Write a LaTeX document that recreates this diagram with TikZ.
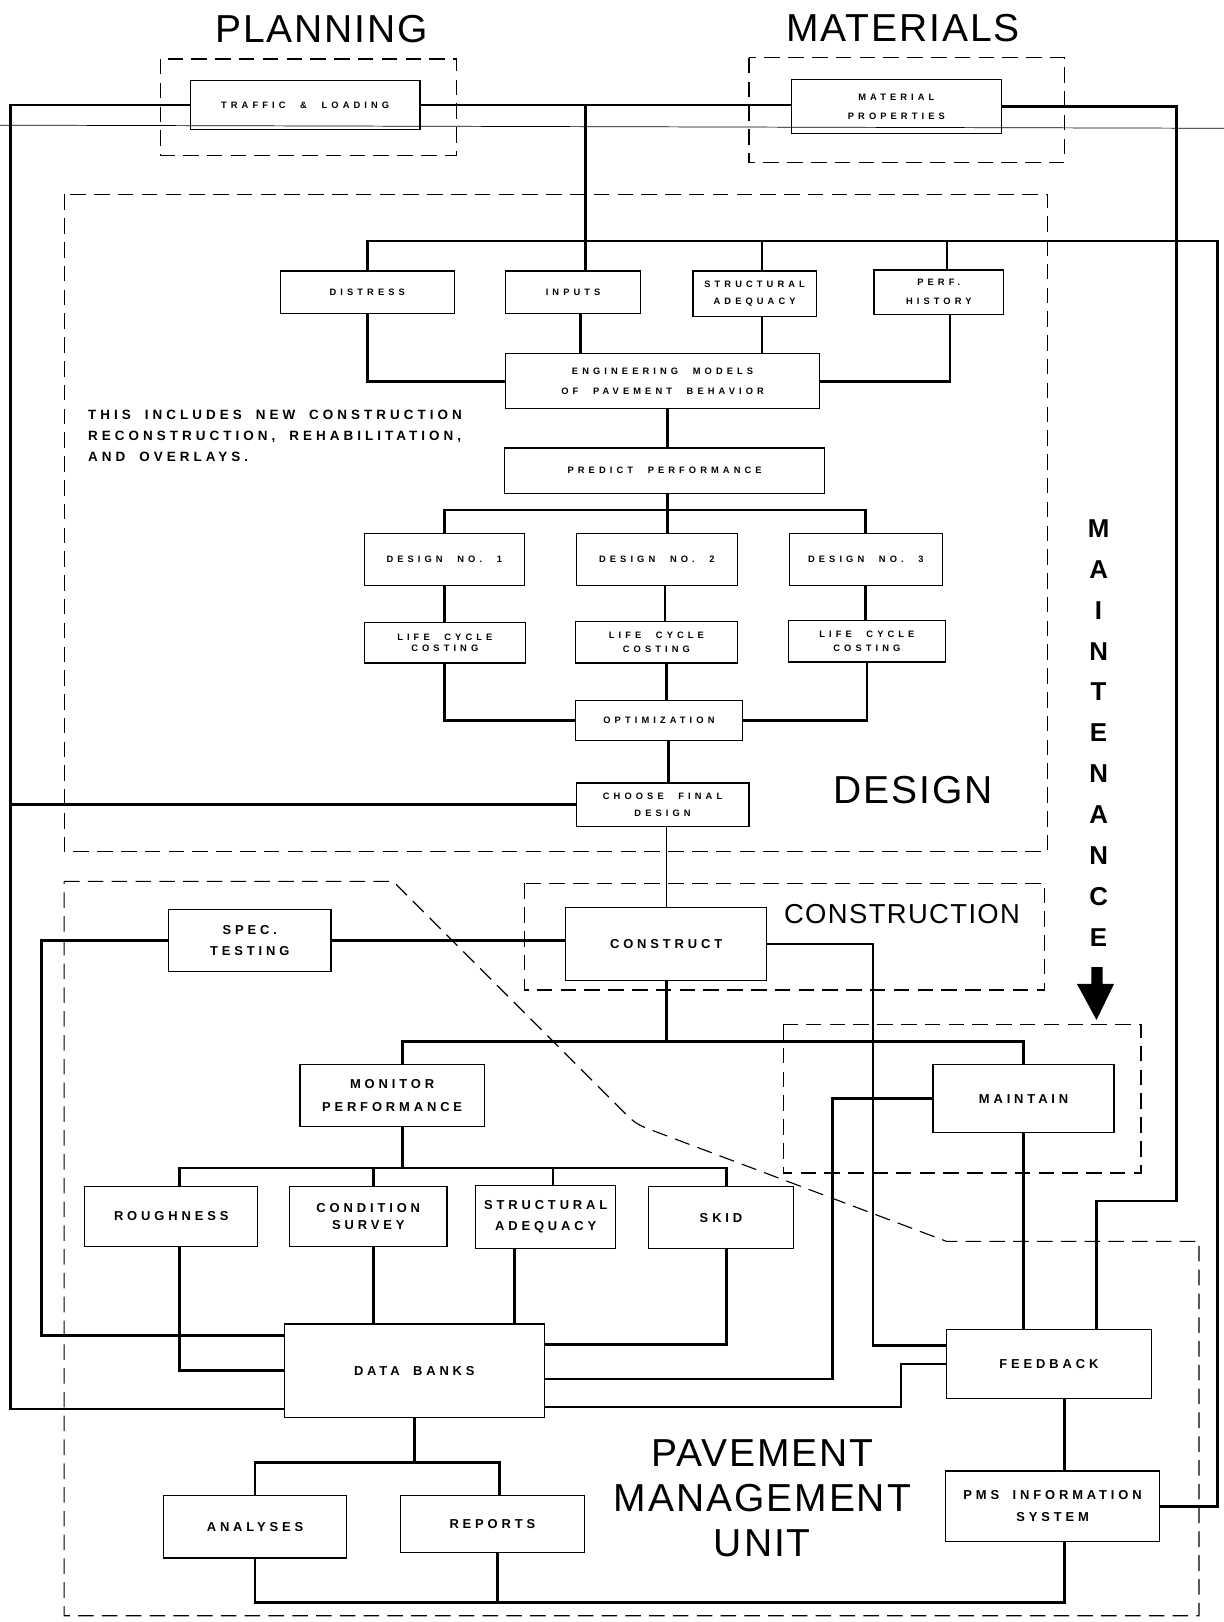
\documentclass[tikz,border=0pt]{standalone}
\usepackage{fontspec}
\setmainfont{Liberation Sans}
\newfontfamily\tinyfont[LetterSpace=44,WordSpace=2.2]{Liberation Sans}
\newfontfamily\lblfont[LetterSpace=30,WordSpace=1.8]{Liberation Sans}
\newfontfamily\headfont[LetterSpace=5]{Liberation Sans}
\usetikzlibrary{positioning,calc}

\tikzset{
  box/.style={draw,line width=1.2pt,fill=white,inner sep=0pt,align=center},
  tinylab/.style={font=\tinyfont\bfseries\fontsize{9}{18}\selectfont},
  tinyskip/.style={font=\tinyfont\bfseries\fontsize{9}{#1}\selectfont},
  midlab/.style={font=\lblfont\bfseries\fontsize{12.5}{20}\selectfont},
  midskip/.style={font=\lblfont\bfseries\fontsize{12.5}{#1}\selectfont},
  conn/.style={line width=2.6pt},
  thinconn/.style={line width=1pt},
  region/.style={line width=1.1pt,dash pattern=on 15pt off 8pt},
  head/.style={font=\headfont\fontsize{37.7}{43.5}\selectfont,align=center}
}

\begin{document}
\begin{tikzpicture}[x=1pt,y=-1pt]
 \useasboundingbox (0,0) rectangle (1183,1568);

 % dashed regions
 \draw[region] (155,57) rectangle (441,150);
 \draw[region] (724,56) rectangle (1029,157);
 \draw[region] (62,188) rectangle (1013,823);
 \draw[region] (507,854) rectangle (1010,957);
 \draw[region] (757,990) rectangle (1103,1134);
 \draw[region] (62,852) -- (380,852) -- (606,1078)
   .. controls (612,1084) and (616,1087) .. (626,1091) -- (915,1200)
   -- (1159,1200) -- (1159,1562) -- (62,1562) -- cycle;

 % headings
 \node[head] (planning) at (311,28) {PLANNING};
 \node[head] (materials) at (873,27) {MATERIALS};
 \node[head] (designlbl) at (883,764) {DESIGN};
 \node[head,font=\headfont\fontsize{26.5}{30}\selectfont] (conslbl) at (872,884) {CONSTRUCTION};
 \node[head] (pmulbl) at (737,1448.5) {PAVEMENT\\MANAGEMENT\\UNIT};
 \node[align=center,font=\bfseries\fontsize{25}{39.5}\selectfont] (maintlbl) at (1062,708.5)
   {M\\A\\I\\N\\T\\E\\N\\A\\N\\C\\E};
 \fill (1055,935) -- (1066,935) -- (1066,951) -- (1077,951) -- (1060,986)
   -- (1041,951) -- (1055,951) -- cycle;
 \node[anchor=north west,inner sep=0pt,align=left,font=\lblfont\bfseries\fontsize{13}{20.5}\selectfont]
   (note) at (85,396) {THIS INCLUDES NEW CONSTRUCTION\\RECONSTRUCTION, REHABILITATION,\\AND OVERLAYS.};

 % planning, materials and design
 \node[box,tinylab,minimum width=222pt,minimum height=47pt] (traffic) at (295,101.5) {TRAFFIC \& LOADING};
 \node[box,tinyskip=18,minimum width=203pt,minimum height=52pt] (matprop) at (866.5,103) {MATERIAL\\PROPERTIES};
 \node[box,tinylab,minimum width=168pt,minimum height=41pt] (distress) at (355,282.5) {DISTRESS};
 \node[box,tinylab,minimum width=130pt,minimum height=41pt] (inputs) at (554,282.5) {INPUTS};
 \node[box,tinyskip=16,minimum width=119pt,minimum height=44pt] (structtop) at (729.5,284) {STRUCTURAL\\ADEQUACY};
 \node[box,tinyskip=18.5,minimum width=125pt,minimum height=43pt] (perfhist) at (907.5,282.5) {PERF.\\HISTORY};
 \node[box,tinyskip=19,minimum width=303pt,minimum height=53pt] (engmodel) at (640.5,368.5) {ENGINEERING MODELS\\OF PAVEMENT BEHAVIOR};
 \node[box,tinylab,minimum width=309pt,minimum height=44pt] (predict) at (642.5,455) {PREDICT PERFORMANCE};
 \node[box,tinylab,minimum width=155pt,minimum height=50pt] (designA) at (429.5,541) {DESIGN NO. 1};
 \node[box,tinylab,minimum width=156pt,minimum height=50pt] (designB) at (635,541) {DESIGN NO. 2};
 \node[box,tinylab,minimum width=148pt,minimum height=50pt] (designC) at (837,541) {DESIGN NO. 3};
 \node[box,tinyskip=11,minimum width=156pt,minimum height=39pt] (lccA) at (430,621.5) {LIFE CYCLE\\COSTING};
 \node[box,tinyskip=13,minimum width=157pt,minimum height=40pt] (lccB) at (634.5,621) {LIFE CYCLE\\COSTING};
 \node[box,tinyskip=13,minimum width=152pt,minimum height=40pt] (lccC) at (838,620) {LIFE CYCLE\\COSTING};
 \node[box,tinylab,minimum width=162pt,minimum height=39pt] (optim) at (637,696.5) {OPTIMIZATION};
 \node[box,tinyskip=17,minimum width=167pt,minimum height=42pt] (choose) at (640.5,778) {CHOOSE FINAL\\DESIGN};

 % construction, maintenance and pavement management
 \node[box,midlab,minimum width=194pt,minimum height=71pt] (construct) at (644,912.5) {CONSTRUCT};
 \node[box,midskip=20,minimum width=157pt,minimum height=60pt] (spectest) at (241.5,909) {SPEC.\\TESTING};
 \node[box,midskip=23,minimum width=178pt,minimum height=60pt] (monitor) at (379,1059) {MONITOR\\PERFORMANCE};
 \node[box,midlab,minimum width=175pt,minimum height=66pt] (maintain) at (989.5,1062) {MAINTAIN};
 \node[box,midlab,minimum width=167pt,minimum height=58pt] (rough) at (165.5,1176) {ROUGHNESS};
 \node[box,midskip=17,minimum width=152pt,minimum height=58pt] (condsurv) at (356,1176) {CONDITION\\SURVEY};
 \node[box,midskip=20,minimum width=135pt,minimum height=61pt] (structlow) at (527.5,1176.5) {STRUCTURAL\\ADEQUACY};
 \node[box,midlab,minimum width=140pt,minimum height=60pt] (skid) at (697,1177) {SKID};
 \node[box,midlab,minimum width=251pt,minimum height=90pt] (databank) at (400.5,1325) {DATA BANKS};
 \node[box,midlab,minimum width=177pt,minimum height=60pt] (analyses) at (246.5,1476) {ANALYSES};
 \node[box,midlab,minimum width=178pt,minimum height=55pt] (reports) at (476,1473.5) {REPORTS};
 \node[box,midlab,minimum width=198pt,minimum height=67pt] (feedback) at (1014,1318.5) {FEEDBACK};
 \node[box,midskip=21.5,minimum width=207pt,minimum height=68pt] (pmsinfo) at (1017.5,1456) {PMS INFORMATION\\SYSTEM};

 % corners and buses
 \coordinate (cL) at (10,1362);
 \coordinate (dropIn) at (566,101.5);
 \coordinate (cR) at (1177,233);
 \coordinate (cM1) at (1137,1161);
 \coordinate (cM2) at (1060,1161);
 \coordinate (midbus) at (645.5,493);
 \coordinate (cS) at (40,1291);
 \coordinate (cC) at (844,1301);
 \coordinate (lowbus) at (644,1007);
 \coordinate (cMt) at (805,1333);
 \coordinate (monbus) at (389,1129);
 \coordinate (cSk) at (702,1300);
 \coordinate (cF) at (871,1360);
 \coordinate (dbbus) at (400.5,1414);
 \coordinate (cB) at (1029,1549);

 % outer loops
 \draw[conn] (traffic.west) -| (cL) -- (cL -| databank.west);
 \draw[conn] (choose.west) -- (choose.west -| cL);
 \draw[conn] (traffic.east) -- (traffic.east -| matprop.west);
 \draw[conn] (dropIn) -- (dropIn |- inputs.north);
 \draw[conn] (matprop.east) -| (cM1) -- (cM2) -- (cM2 |- feedback.north);
 \draw[conn] (pmsinfo.east) -| (cR) -| (distress.north);
 \draw[conn] ([xshift=7pt]structtop.north) -- ([xshift=7pt]structtop.north |- cR);
 \draw[conn] ([xshift=8pt]perfhist.north) -- ([xshift=8pt]perfhist.north |- cR);

 % design flow
 \draw[conn] (distress.south) |- (engmodel.west);
 \draw[conn] ([xshift=7pt]inputs.south) -- ([xshift=7pt]inputs.south |- engmodel.north);
 \draw[conn] ([xshift=7pt]structtop.south) -- ([xshift=7pt]structtop.south |- engmodel.north);
 \draw[conn] ([xshift=11pt]perfhist.south) |- (engmodel.east);
 \draw[conn] ([xshift=5pt]engmodel.south) -- ([xshift=5pt]engmodel.south |- predict.north);
 \draw[conn] (predict.south -| midbus) -- (midbus);
 \draw[conn] (designA.north) |- (midbus) -| (designC.north);
 \draw[conn] (midbus) -- (midbus |- designB.north);
 \draw[conn] (designA.south) -- (designA.south |- lccA.north);
 \draw[conn] ([xshift=8pt]designB.south) -- ([xshift=8pt]designB.south |- lccB.north);
 \draw[conn] (designC.south) -- (designC.south |- lccC.north);
 \draw[conn] (lccA.south) |- (optim.west);
 \draw[conn] (lccC.south) |- (optim.east);
 \draw[conn] ([xshift=10pt]lccB.south) -- ([xshift=10pt]lccB.south |- optim.north);
 \draw[conn] ([xshift=9pt]optim.south) -- ([xshift=9pt]optim.south |- choose.north);
 \draw[thinconn] (construct.north |- choose.south) -- (construct.north);

 % construction and monitoring
 \draw[conn] (spectest.east) -- (spectest.east -| construct.west);
 \draw[conn] (spectest.west) -| (cS) -- (cS -| databank.west);
 \draw[conn] (construct.east) -| (cC) -- (cC -| feedback.west);
 \draw[conn] (construct.south) -- (construct.south |- lowbus);
 \draw[conn] ([xshift=10pt]monitor.north) |- (lowbus) -| (maintain.north);
 \draw[conn] (maintain.west) -| (cMt) -- (cMt -| databank.east);
 \draw[conn] (maintain.south) -- (maintain.south |- feedback.north);
 \draw[conn] ([xshift=10pt]monitor.south) -- (monbus);
 \draw[conn] ([xshift=8pt]rough.north) |- (monbus) -| ([xshift=5pt]skid.north);
 \draw[conn] ([xshift=5pt]condsurv.north) -- ([xshift=5pt]condsurv.north |- monbus);
 \draw[conn] ([xshift=7pt]structlow.north) -- ([xshift=7pt]structlow.north |- monbus);
 \draw[conn] ([xshift=8pt]rough.south) |- (databank.west);
 \draw[conn] ([xshift=5pt]condsurv.south) -- ([xshift=5pt]condsurv.south |- databank.north);
 \draw[conn] ([xshift=-30pt]structlow.south) -- ([xshift=-30pt]structlow.south |- databank.north);
 \draw[conn] ([xshift=5pt]skid.south) -- (cSk) -- (cSk -| databank.east);
 \draw[conn] (databank.east |- cF) -- (cF) |- (feedback.west);
 \draw[conn] (databank.south) -- (dbbus);
 \draw[conn] (analyses.north) |- (dbbus) -| ([xshift=7pt]reports.north);
 \draw[conn] ([xshift=15pt]feedback.south) -- ([xshift=15pt]feedback.south |- pmsinfo.north);
 \draw[conn] ([xshift=11.5pt]pmsinfo.south) -- (cB) -| (analyses.south);
 \draw[conn] ([xshift=5pt]reports.south) -- ([xshift=5pt]reports.south |- cB);

 % stray rule across the sheet
 \draw[line width=0.7pt] (0,121) -- (1183,124);
\end{tikzpicture}
\end{document}
